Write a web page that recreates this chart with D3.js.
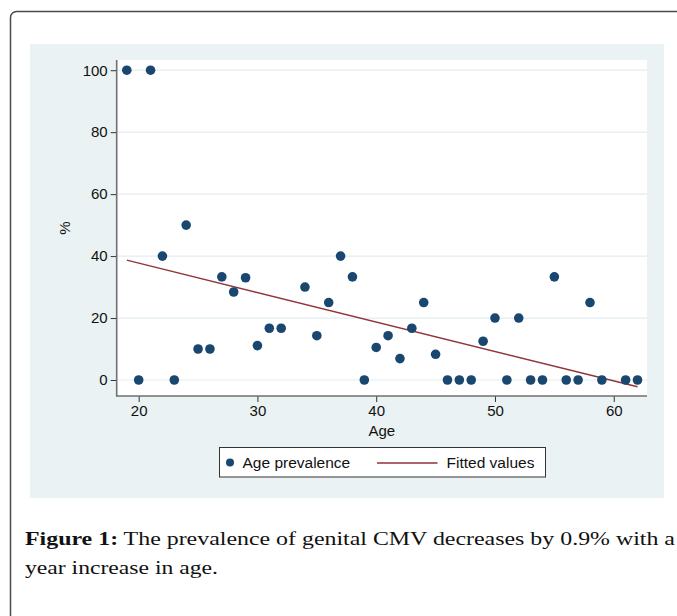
<!DOCTYPE html>
<html>
<head>
<meta charset="utf-8">
<script src="https://cdn.jsdelivr.net/npm/d3@7"></script>
<style>
  html, body { margin: 0; padding: 0; background: #fff; }
  svg { display: block; }
</style>
</head>
<body>
<svg id="chart" width="677" height="616"></svg>
<script>
// ---- Data ----
const ages = [19,20,21,22,23,24,25,26,27,28,29,30,31,32,34,35,36,37,38,39,40,41,42,43,44,45,46,47,48,49,50,51,52,53,54,55,56,57,58,59,61,62];
const prevalence = [100,0,100,40,0,50,10,10,33.3,28.4,33,11.1,16.7,16.7,30,14.3,25,40,33.3,0,10.5,14.3,6.9,16.7,25,8.3,0,0,0,12.5,20,0,20,0,0,33.3,0,0,25,0,0,0];
const fittedAges = [19, 62];
const fittedValues = [38.7, -2.2];
const xTicks = [20, 30, 40, 50, 60];
const yTicks = [0, 20, 40, 60, 80, 100];
const legendLabels = ["Age prevalence", "Fitted values"];
const xTitle = "Age";
const yTitle = "%";
const captionBold = "Figure 1:";
const captionLine1 = " The prevalence of genital CMV decreases by 0.9% with a";
const captionLine2 = "year increase in age.";

// ---- Layout ----
const svg = d3.select("#chart");
const plot = { left: 116.7, right: 647, top: 60, bottom: 396 };
const navy = "#1a476f", maroon = "#90353b";

// outer frame
svg.append("rect")
  .attr("x", 10.5).attr("y", 11.5).attr("width", 700).attr("height", 700)
  .attr("rx", 6).attr("ry", 6)
  .attr("fill", "#fff").attr("stroke", "#4a4a4a").attr("stroke-width", 1.5);

// graph region background
svg.append("rect")
  .attr("x", 30).attr("y", 44).attr("width", 634).attr("height", 454)
  .attr("fill", "#eaf2f3");

// plot region
svg.append("rect")
  .attr("x", plot.left).attr("y", plot.top)
  .attr("width", plot.right - plot.left).attr("height", plot.bottom - plot.top)
  .attr("fill", "#fff");

const x = d3.scaleLinear().domain([18.15, 62.8]).range([plot.left, plot.right]);
const y = d3.scaleLinear().domain([-5.17, 103.3]).range([plot.bottom, plot.top]);

// gridlines
svg.append("g").selectAll("line").data(yTicks).join("line")
  .attr("x1", plot.left).attr("x2", plot.right)
  .attr("y1", d => y(d)).attr("y2", d => y(d))
  .attr("stroke", "#e3edf0").attr("stroke-width", 1.2);

// axes
const yAxis = svg.append("g").attr("transform", `translate(${plot.left},0)`)
  .call(d3.axisLeft(y).tickValues(yTicks).tickSize(6).tickPadding(3));
const xAxis = svg.append("g").attr("transform", `translate(0,${plot.bottom})`)
  .call(d3.axisBottom(x).tickValues(xTicks).tickSize(6).tickPadding(3));
[xAxis, yAxis].forEach(g => {
  g.select(".domain").remove();
  g.selectAll(".tick line").attr("stroke", "#333").attr("stroke-width", 1);
  g.selectAll(".tick text").attr("fill", "#111")
    .style("font-family", "'Liberation Sans', Arial, sans-serif").style("font-size", "15px");
});
// axis lines
svg.append("line").attr("x1", plot.left).attr("x2", plot.left)
  .attr("y1", plot.top).attr("y2", plot.bottom + 0.75)
  .attr("stroke", "#707070").attr("stroke-width", 1.6);
svg.append("line").attr("x1", plot.left).attr("x2", plot.right)
  .attr("y1", plot.bottom).attr("y2", plot.bottom)
  .attr("stroke", "#707070").attr("stroke-width", 1.6);

// axis titles
svg.append("text").attr("x", (plot.left + plot.right) / 2).attr("y", 436)
  .attr("text-anchor", "middle").attr("fill", "#111")
  .style("font-family", "'Liberation Sans', Arial, sans-serif").style("font-size", "15px")
  .text(xTitle);
svg.append("text")
  .attr("transform", `translate(70,${(plot.top + plot.bottom) / 2}) rotate(-90)`)
  .attr("text-anchor", "middle").attr("fill", "#111")
  .style("font-family", "'Liberation Sans', Arial, sans-serif").style("font-size", "15px")
  .text(yTitle);

// fitted line
const fitted = fittedAges.map((a, i) => [a, fittedValues[i]]);
svg.append("path").datum(fitted)
  .attr("d", d3.line().x(d => x(d[0])).y(d => y(d[1])))
  .attr("fill", "none").attr("stroke", maroon).attr("stroke-width", 1.5);

// points
const pts = ages.map((a, i) => ({ a, v: prevalence[i] }));
svg.append("g").selectAll("circle").data(pts).join("circle")
  .attr("cx", d => x(d.a)).attr("cy", d => y(d.v)).attr("r", 4.8)
  .attr("fill", navy);

// legend
const lg = svg.append("g");
lg.append("rect").attr("x", 219.5).attr("y", 447.5).attr("width", 326).attr("height", 29.5)
  .attr("fill", "#fff").attr("stroke", "#333").attr("stroke-width", 1);
lg.append("circle").attr("cx", 230).attr("cy", 462.5).attr("r", 4).attr("fill", navy);
lg.append("text").attr("x", 242.5).attr("y", 468).attr("fill", "#111")
  .style("font-family", "'Liberation Sans', Arial, sans-serif").style("font-size", "15.5px")
  .text(legendLabels[0]);
lg.append("line").attr("x1", 377).attr("x2", 437.5).attr("y1", 463).attr("y2", 463)
  .attr("stroke", maroon).attr("stroke-width", 1.3);
lg.append("text").attr("x", 446.5).attr("y", 468).attr("fill", "#111")
  .style("font-family", "'Liberation Sans', Arial, sans-serif").style("font-size", "15.5px")
  .text(legendLabels[1]);

// caption
const cap = svg.append("g").style("font-family", "'Liberation Serif', 'Times New Roman', serif")
  .style("font-size", "18px").attr("fill", "#111");
const t1 = cap.append("text").attr("x", 25).attr("y", 545)
  .attr("textLength", 650).attr("lengthAdjust", "spacingAndGlyphs");
t1.append("tspan").style("font-weight", "bold").text(captionBold);
t1.append("tspan").text(captionLine1);
cap.append("text").attr("x", 25).attr("y", 574)
  .attr("textLength", 193).attr("lengthAdjust", "spacingAndGlyphs")
  .text(captionLine2);
</script>
</body>
</html>
